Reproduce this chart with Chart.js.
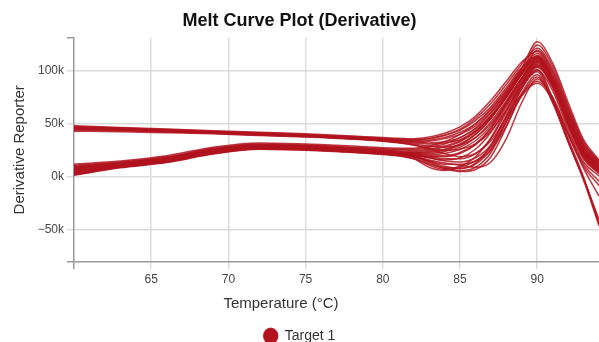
<!DOCTYPE html>
<html>
<head>
<meta charset="utf-8">
<script src="https://cdn.jsdelivr.net/npm/chart.js@4"></script>
<style>
  html, body { margin: 0; padding: 0; background: #fff; overflow: hidden; }
</style>
</head>
<body>
<canvas id="meltChart" width="599" height="353"></canvas>
<script>
// temperature steps (°C) shared by every well
var temps = [60, 63, 66, 69, 72, 75, 78, 80, 82, 83, 84, 85, 86, 87, 88, 89, 90, 91, 92, 93, 94];

// derivative reporter (in thousands), wells with high starting signal
var upperWells = [
  [48, 46.5, 45, 43.5, 42, 40.5, 38.5, 37, 36, 37.5, 41, 47, 57, 72, 90, 108, 118, 97, 62, 30, 14],
  [47, 45.5, 44, 42.5, 41, 39.5, 37.5, 36, 35, 36, 39, 44, 53, 66, 84, 103, 114, 93, 58, 27, 11],
  [46, 45, 43.5, 42, 40.5, 39, 37, 35, 33, 33.5, 36, 40, 48, 61, 79, 99, 111, 90, 55, 24, 9],
  [45, 44, 43, 41.5, 40, 38.5, 36.5, 34.5, 32, 31, 32, 35, 43, 56, 75, 96, 109, 89, 53, 22, 7],
  [44, 43.5, 42.5, 41, 39.5, 38, 36, 34, 31, 29, 28, 30, 37, 50, 70, 92, 106, 86, 51, 20, 5],
  [47.5, 46, 44.5, 43, 41.5, 40, 38, 36.5, 35, 36, 39.5, 45, 55, 69, 87, 106, 121, 101, 65, 32, 15],
  [46.5, 45, 44, 42.5, 41, 39, 37, 35.5, 34, 34.5, 37, 42, 50, 63, 81, 100, 112, 91, 56, 25, 10],
  [43, 42.5, 41.5, 40.5, 39, 37.5, 35.5, 33.5, 30, 27, 25, 26, 31, 43, 63, 86, 101, 74, 36, 0, -43],
  [45.5, 44.5, 43, 42, 40.5, 39, 37, 35, 33, 32, 33, 37, 45, 58, 77, 98, 113, 92, 57, 26, 10],
  [45, 44, 42.5, 41, 39.5, 38, 36, 34, 30, 26, 22, 19, 22, 34, 56, 78, 90, 75, 42, 12, -4]
];

// wells with low starting signal
var lowerWells = [
  [12, 15, 20, 28, 32, 31, 29, 27.5, 27, 29, 33, 40, 50, 64, 82, 102, 116, 95, 60, 28, 12],
  [11, 14, 19, 27, 31, 30, 28, 26.5, 26, 28, 31, 37, 46, 60, 79, 100, 114, 94, 58, 27, 11],
  [10, 13.5, 18.5, 26.5, 30.5, 29.5, 27.5, 26, 25, 26, 29, 34, 43, 57, 76, 97, 112, 91, 56, 25, 9],
  [9, 13, 18, 26, 30, 29, 27, 25, 23, 23, 25, 30, 40, 55, 75, 97, 119, 99, 63, 30, 13],
  [8, 12, 17, 25, 29.5, 28.5, 26.5, 24.5, 22, 21, 22, 26, 34, 48, 70, 93, 111, 90, 54, 23, 8],
  [7, 11.5, 16.5, 24.5, 29, 28, 26, 24, 21, 18, 16, 18, 26, 42, 66, 90, 108, 88, 52, 21, 6],
  [6, 11, 16, 24, 28.5, 27.5, 25.5, 23.5, 20, 15, 10, 8, 13, 30, 58, 86, 104, 85, 49, 18, 4],
  [5, 10.5, 15.5, 23.5, 28, 27, 25, 23, 19, 13, 8, 6, 9, 23, 52, 83, 99, 72, 34, -2, -44],
  [4, 10, 15, 23, 27.5, 26.5, 24.5, 22.5, 18, 11, 7, 10, 19, 37, 63, 89, 105, 86, 50, 19, 5],
  [3, 9.5, 14.5, 22.5, 27, 26, 24, 22, 17, 12, 8, 5, 7, 19, 47, 79, 96, 70, 33, -3, -46],
  [2, 9, 14, 22, 26.5, 25.5, 23.5, 21.5, 19, 16, 13, 11, 9, 14, 36, 70, 92, 74, 40, 8, -18],
  [1.5, 8.5, 13.5, 21.5, 26, 25, 23, 21, 17, 9, 6, 9, 15, 28, 53, 83, 100, 81, 45, 14, 1],
  [9.5, 13, 18, 25, 29, 28, 26, 24, 23, 24, 26, 31, 40, 55, 77, 102, 127, 107, 70, 35, 16],
  [6.5, 11, 16, 24, 28, 27.5, 25.5, 23.5, 22, 22, 24, 28, 37, 52, 72, 93, 107, 87, 52, 21, 6],
  [4.5, 10, 15, 23, 27, 26.5, 24.5, 22.5, 19, 15, 12, 12, 15, 25, 48, 77, 94, 70, 33, -2, -40],
  [3.5, 9.5, 14.5, 22.5, 27, 26, 24, 22, 20, 19, 19, 22, 30, 45, 68, 92, 110, 90, 55, 24, 9],
  [2.5, 9, 14, 22, 26.5, 25.5, 23.5, 21.5, 20, 18, 15, 14, 18, 30, 56, 85, 103, 84, 48, 17, 3],
  [8.5, 12.5, 17.5, 25.5, 29.5, 29, 27, 25, 24, 25, 28, 33, 42, 56, 75, 98, 124, 104, 67, 33, 14],
  [7.5, 12, 17, 25, 29, 28, 26, 24, 22, 20, 20, 23, 31, 46, 69, 93, 109, 89, 53, 22, 7],
  [5.5, 10.5, 15.5, 23.5, 28, 27, 25, 23, 21, 19, 17, 17, 22, 36, 61, 88, 104, 85, 50, 19, 5],
  [7, 11.5, 16.5, 24.5, 29, 28, 26, 24, 20, 14, 9, 8, 12, 26, 52, 76, 88, 72, 40, 10, -8]
];

var xTicks = [60, 65, 70, 75, 80, 85, 90];
var yTicks = [-80, -50, 0, 50, 100, 131];
var targetName = 'Target 1';
var targetColor = '#b2141f';
var fontFamily = '"Liberation Sans", Arial, Helvetica, sans-serif';

var datasets = upperWells.concat(lowerWells).map(function (well) {
  return {
    label: targetName,
    data: well.map(function (v, i) {
      return { x: temps[i], y: v };
    }),
    borderColor: 'rgba(178, 20, 31, 0.85)',
    backgroundColor: targetColor,
    borderWidth: 1.5,
    pointRadius: 0,
    pointStyle: 'circle',
    cubicInterpolationMode: 'monotone',
  };
});

function formatK(v) {
  if (v === 0) return '0k';
  return v < 0 ? '\u2212' + (-v) + 'k' : v + 'k';
}

// x axis title, drawn by hand so it can sit left of the plot centre
var xTitlePlugin = {
  id: 'xTitle',
  afterDraw: function (chart) {
    var ctx = chart.ctx;
    ctx.save();
    ctx.font = '15px ' + fontFamily;
    ctx.fillStyle = '#333';
    ctx.textAlign = 'center';
    ctx.textBaseline = 'middle';
    ctx.fillText('Temperature (\u00B0C)', 281, chart.chartArea.bottom + 42);
    ctx.restore();
  }
};

var ctx = document.getElementById('meltChart');

new Chart(ctx, {
  type: 'line',
  data: { datasets: datasets },
  plugins: [xTitlePlugin],
  options: {
    responsive: false,
    animation: false,
    events: [],
    layout: { padding: { left: 0, right: 0, top: 0, bottom: 0 } },
    plugins: {
      title: {
        display: true,
        text: 'Melt Curve Plot (Derivative)',
        color: '#111',
        font: { family: fontFamily, size: 18, weight: 'bold' },
        padding: { top: 10, bottom: 6 },
      },
      legend: {
        position: 'bottom',
        labels: {
          usePointStyle: true,
          pointStyle: 'circle',
          boxHeight: 11,
          pointStyleWidth: 14,
          color: '#333',
          font: { family: fontFamily, size: 14 },
          padding: 4,
          filter: function (item) {
            return item.datasetIndex === 0;
          },
        },
      },
      tooltip: { enabled: false },
    },
    scales: {
      x: {
        type: 'linear',
        min: 60,
        max: 94,
        afterBuildTicks: function (scale) {
          scale.ticks = xTicks.map(function (v) { return { value: v }; });
        },
        afterFit: function (scale) {
          scale.height = 63;
        },
        ticks: {
          autoSkip: false,
          maxRotation: 0,
          color: '#444',
          padding: 3,
          font: { family: fontFamily, size: 12 },
          callback: function (v) {
            return v === 60 ? '' : v;
          },
        },
        grid: {
          color: function (c) {
            return c.tick && c.tick.value === 60 ? 'rgba(0,0,0,0)' : '#dcdcdc';
          },
          tickColor: function (c) {
            return c.tick && c.tick.value === 60 ? '#999' : '#dcdcdc';
          },
          tickLength: 7,
          lineWidth: 1.5,
        },
        border: { color: '#999', width: 1.5 },
      },
      y: {
        type: 'linear',
        min: -80,
        max: 131,
        afterBuildTicks: function (scale) {
          scale.ticks = yTicks.map(function (v) { return { value: v }; });
        },
        afterFit: function (scale) {
          scale.width = 74;
        },
        ticks: {
          color: '#444',
          padding: 3,
          font: { family: fontFamily, size: 12 },
          callback: function (v) {
            return (v === -80 || v === 131) ? '' : formatK(v);
          },
        },
        grid: {
          color: function (c) {
            return c.tick && (c.tick.value === -80 || c.tick.value === 131) ? 'rgba(0,0,0,0)' : '#dcdcdc';
          },
          tickColor: function (c) {
            return c.tick && (c.tick.value === -80 || c.tick.value === 131) ? '#999' : '#dcdcdc';
          },
          tickLength: 7,
          lineWidth: 1.5,
        },
        border: { color: '#999', width: 1.5 },
        title: {
          display: true,
          text: 'Derivative Reporter',
          color: '#333',
          font: { family: fontFamily, size: 15 },
          padding: { top: 11, bottom: 0 },
        },
      },
    },
  },
});
</script>
</body>
</html>
